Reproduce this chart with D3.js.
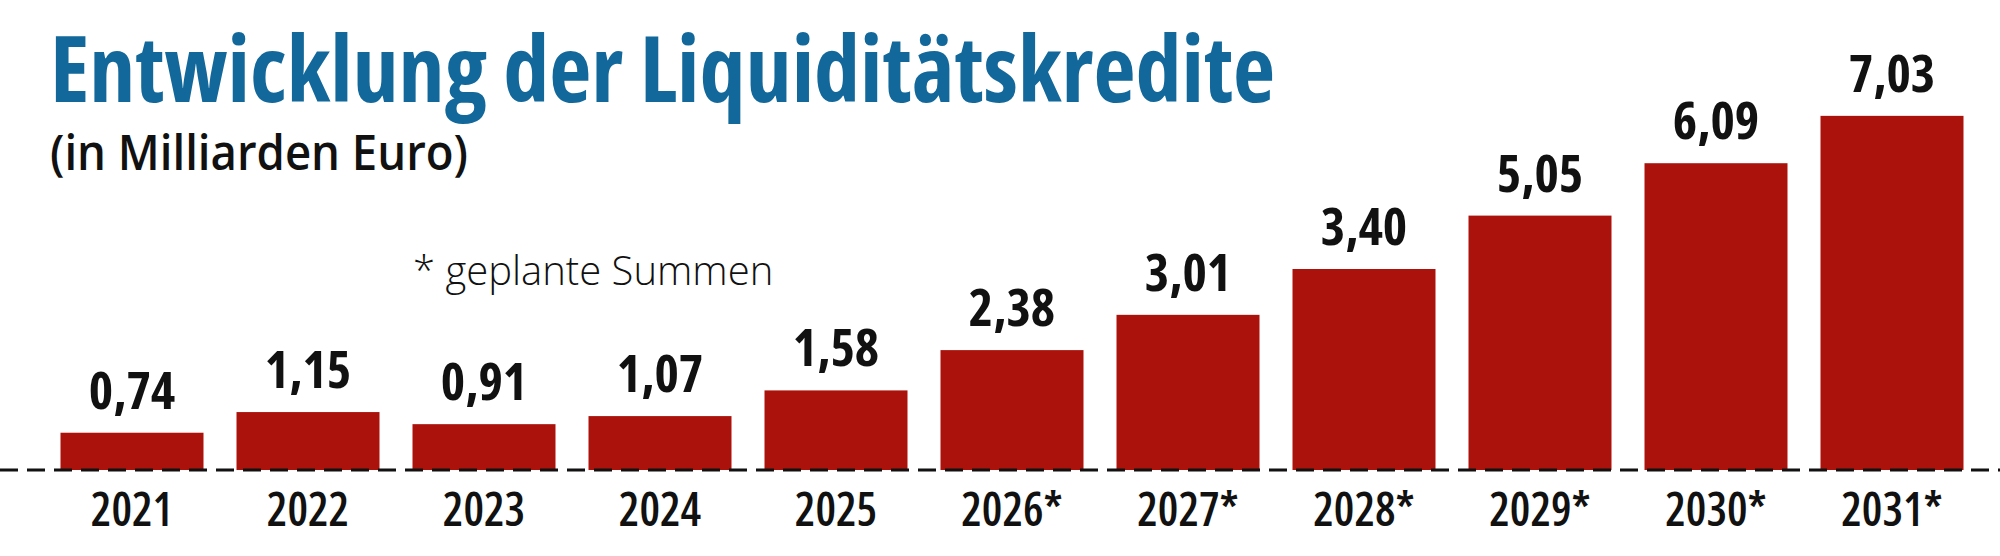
<!DOCTYPE html>
<html>
<head>
<meta charset="utf-8">
<script src="https://cdn.jsdelivr.net/npm/d3@7"></script>
<style>
  html, body { margin: 0; padding: 0; background: #fff; }
  svg { display: block; }
  .cond { font-family: "Open Sans", sans-serif; font-stretch: 75%; }
</style>
</head>
<body>
<div id="chart"></div>
<script>
// data
const years = ["2021", "2022", "2023", "2024", "2025", "2026*", "2027*", "2028*", "2029*", "2030*", "2031*"];
// bar lengths as drawn in the original (2027/2028 are drawn a bit taller than labelled)
const values = [0.74, 1.15, 0.91, 1.07, 1.58, 2.38, 3.08, 3.99, 5.05, 6.09, 7.03];
const valueLabels = ["0,74", "1,15", "0,91", "1,07", "1,58", "2,38", "3,01", "3,40", "5,05", "6,09", "7,03"];

const width = 2000, height = 556;
const baseY = 470;

const svg = d3.select("#chart")
    .append("svg")
    .attr("width", width)
    .attr("height", height);

const data = years.map((y, i) => ({ year: y, value: values[i], label: valueLabels[i] }));

// scales
const x = d3.scaleBand()
    .domain(years)
    .range([44, 1980])
    .paddingInner(0.1875)
    .paddingOuter(0.09375);

const y = d3.scaleLinear()
    .domain([0, 8])
    .range([baseY, 67]);

// title + subtitle
svg.append("text")
    .attr("class", "cond")
    .attr("x", 50)
    .attr("y", 102)
    .attr("font-size", 92)
    .attr("font-weight", 700)
    .attr("fill", "#12689a")
    .text("Entwicklung der Liquiditätskredite");

svg.append("text")
    .attr("x", 50)
    .attr("y", 170)
    .attr("font-family", "'Open Sans', sans-serif")
    .attr("font-size", 48)
    .attr("font-weight", 600)
    .attr("textLength", 418)
    .attr("lengthAdjust", "spacingAndGlyphs")
    .attr("fill", "#111")
    .text("(in Milliarden Euro)");

svg.append("text")
    .attr("x", 413)
    .attr("y", 285)
    .attr("font-family", "'Open Sans', sans-serif")
    .attr("font-size", 40)
    .attr("font-weight", 300)
    .attr("fill", "#111")
    .text("* geplante Summen");

// bars
svg.selectAll(".bar")
    .data(data)
    .enter().append("rect")
    .attr("class", "bar")
    .attr("x", d => x(d.year))
    .attr("y", d => y(d.value))
    .attr("width", x.bandwidth())
    .attr("height", d => baseY - y(d.value))
    .attr("fill", "#ab120b");

// value labels
svg.selectAll(".val")
    .data(data)
    .enter().append("text")
    .attr("class", "val cond")
    .attr("x", d => x(d.year) + x.bandwidth() / 2)
    .attr("y", d => y(d.value) - 24)
    .attr("text-anchor", "middle")
    .attr("font-size", 52)
    .attr("font-weight", 700)
    .attr("fill", "#111")
    .text(d => d.label);

// x axis: just labels, no line/ticks
const xAxis = svg.append("g")
    .attr("class", "x-axis")
    .attr("transform", `translate(0,${baseY})`)
    .call(d3.axisBottom(x).tickSize(0).tickPadding(56));

xAxis.select(".domain").remove();
xAxis.selectAll("text")
    .attr("class", "cond")
    .attr("dy", 0)
    .style("font-size", "46px")
    .style("font-weight", 560)
    .attr("fill", "#111");

// dashed baseline on top of the bars
svg.append("line")
    .attr("x1", 0)
    .attr("x2", width)
    .attr("y1", baseY)
    .attr("y2", baseY)
    .attr("stroke", "#111")
    .attr("stroke-width", 3)
    .attr("stroke-dasharray", "18,9");
</script>
</body>
</html>
